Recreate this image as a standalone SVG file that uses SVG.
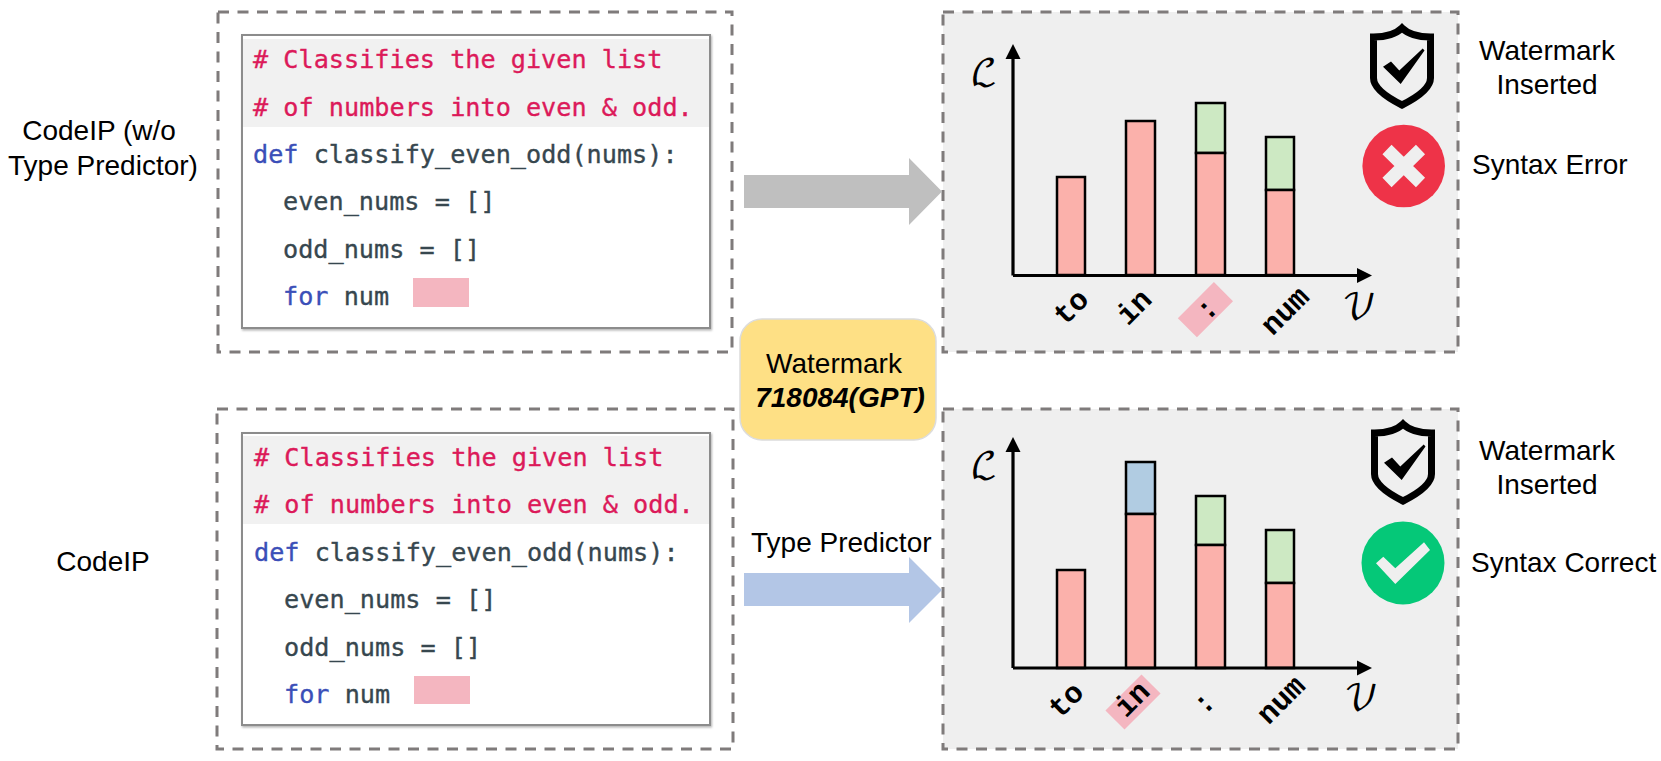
<svg xmlns="http://www.w3.org/2000/svg" width="1661" height="761" viewBox="0 0 1661 761">
<style>
.dash{stroke:#7f7b7b;stroke-width:3;stroke-dasharray:11 8.5}
.panel{fill:#efefef}
.box{fill:none}
.code{fill:#fff;stroke:#8c8c8c;stroke-width:2;filter:url(#sh)}
.hl{fill:#f1f1f1}
.c{font:25.2px "DejaVu Sans Mono",monospace;fill:#37474f;stroke:#37474f;stroke-width:.35}
.cm{fill:#dc1a5a;stroke:#dc1a5a}
.kw{fill:#3b4fb8;stroke:#3b4fb8}
.blank{fill:#f4b6c0}
.t{font:28px "Liberation Sans",Arial,sans-serif;fill:#000}
.bi{font-weight:bold;font-style:italic}
.m{text-anchor:middle}
.b{stroke:#000;stroke-width:2.5}
.r{fill:#fbb1ab}.g{fill:#cde9c3}.u{fill:#b1cce2}
.ax{stroke:#000;stroke-width:3.2;fill:none}
.tk{font:bold 30px "Liberation Mono",monospace;fill:#000;text-anchor:middle}
.sc{font:36px "DejaVu Math TeX Gyre","DejaVu Serif",serif;fill:#000;text-anchor:middle}
.sh{fill:none;stroke:#000;stroke-width:7;stroke-linejoin:miter}
</style>
<defs>
<filter id="sh" x="-3%" y="-3%" width="106%" height="106%"><feDropShadow dx="1" dy="1.5" stdDeviation="1.2" flood-color="#000" flood-opacity=".3"/></filter>
<g id="shield"><path class="sh" d="M1402,28C1396,34 1385,37 1373.5,37L1373.5,78C1373.5,90 1392,100 1402,105C1412,100 1430.5,90 1430.5,78L1430.5,37C1419,37 1408,34 1402,28Z"/><path d="M1383,66.7L1391,61.5L1399.3,70.5L1422.7,48.5L1424.5,50.5L1400.7,84Z"/></g>
<path id="ah" d="M0,0l7.5,15h-15z"/>
</defs>

<g id="label-codeip-no-tp"><text class="t m" x="99" y="140">CodeIP (w/o</text><text class="t m" x="103" y="175">Type Predictor)</text></g>
<g id="label-codeip"><text class="t m" x="103" y="571">CodeIP</text></g>

<g id="code-top">
<rect class="dash box" x="218" y="12" width="514" height="340"/>
<rect class="code" x="242" y="35" width="468" height="293"/>
<rect class="hl" x="243" y="39" width="466" height="88"/>
<text class="c cm" x="253" y="68"># Classifies the given list</text>
<text class="c cm" x="253" y="115.5"># of numbers into even &amp; odd.</text>
<text class="c" x="253" y="163"><tspan class="kw">def</tspan> classify_even_odd(nums):</text>
<text class="c" x="283" y="210">even_nums = []</text>
<text class="c" x="283" y="258">odd_nums = []</text>
<text class="c" x="283" y="305"><tspan class="kw">for</tspan> num</text>
<rect class="blank" x="413" y="278" width="56" height="29"/>
</g>

<g id="code-bottom">
<rect class="dash box" x="217" y="409" width="516" height="340"/>
<rect class="code" x="242" y="433" width="468" height="292"/>
<rect class="hl" x="243" y="436" width="466" height="88"/>
<text class="c cm" x="254" y="465.5"># Classifies the given list</text>
<text class="c cm" x="254" y="513"># of numbers into even &amp; odd.</text>
<text class="c" x="254" y="560.5"><tspan class="kw">def</tspan> classify_even_odd(nums):</text>
<text class="c" x="284" y="608">even_nums = []</text>
<text class="c" x="284" y="655.5">odd_nums = []</text>
<text class="c" x="284" y="703"><tspan class="kw">for</tspan> num</text>
<rect class="blank" x="414" y="676" width="56" height="28"/>
</g>

<g id="result-top">
<rect class="panel" x="943" y="12" width="515" height="340"/>
<rect class="dash box" x="943" y="12" width="515" height="340"/>
<rect class="b r" x="1057" y="177" width="28" height="98"/>
<rect class="b r" x="1126" y="121" width="29" height="154"/>
<rect class="b g" x="1196" y="103" width="29" height="50"/>
<rect class="b r" x="1196" y="153" width="29" height="122"/>
<rect class="b g" x="1266" y="137" width="28" height="53"/>
<rect class="b r" x="1266" y="190" width="28" height="85"/>
<path class="ax" d="M1013,275.5V58M1013,275.5H1358"/>
<use href="#ah" x="1013" y="44"/>
<path d="M1372,275.5l-15,-7.5v15z"/>
<text class="sc" x="984" y="85">ℒ</text>
<text class="sc" x="1359" y="319">𝒱</text>
<rect class="blank" x="1180" y="296" width="51" height="27" transform="rotate(-45 1205.7 309.7)"/>
<text class="tk" transform="translate(1072 308) rotate(-45)" y="8">to</text>
<text class="tk" transform="translate(1135 308) rotate(-45)" y="8">in</text>
<text class="tk" transform="translate(1208 310) rotate(-45)" y="8">:</text>
<text class="tk" transform="translate(1286 312) rotate(-45)" y="8">num</text>
<use href="#shield"/>
<circle cx="1403.7" cy="166" r="41.3" fill="#ee3348"/>
<path d="M1387,149.5L1420.5,182.5M1420.5,149.5L1387,182.5" stroke="#efefef" stroke-width="13" fill="none"/>
<text class="t m" x="1547" y="60">Watermark</text><text class="t m" x="1547" y="94">Inserted</text>
<text class="t" x="1472" y="174">Syntax Error</text>
</g>

<g id="result-bottom">
<rect class="panel" x="943" y="409" width="515" height="340"/>
<rect class="dash box" x="943" y="409" width="515" height="340"/>
<rect class="b r" x="1057" y="570" width="28" height="98"/>
<rect class="b u" x="1126" y="462" width="29" height="52"/>
<rect class="b r" x="1126" y="514" width="29" height="154"/>
<rect class="b g" x="1196" y="496" width="29" height="49"/>
<rect class="b r" x="1196" y="545" width="29" height="123"/>
<rect class="b g" x="1266" y="530" width="28" height="53"/>
<rect class="b r" x="1266" y="583" width="28" height="85"/>
<path class="ax" d="M1013,668V451M1013,668H1358"/>
<use href="#ah" x="1013" y="437"/>
<path d="M1372,668l-15,-7.5v15z"/>
<text class="sc" x="984" y="478">ℒ</text>
<text class="sc" x="1361" y="710">𝒱</text>
<rect class="blank" x="1107.5" y="688.5" width="51" height="27" transform="rotate(-45 1133 702)"/>
<text class="tk" transform="translate(1067 701) rotate(-45)" y="8">to</text>
<text class="tk" transform="translate(1133 700) rotate(-45)" y="8">in</text>
<text class="tk" transform="translate(1205 704) rotate(-45)" y="8">:</text>
<text class="tk" transform="translate(1282 701) rotate(-45)" y="8">num</text>
<use href="#shield" transform="translate(1 396)"/>
<circle cx="1403" cy="563" r="41.5" fill="#05c878"/>
<path d="M1376,563.3L1383.3,556.7L1395.3,568.3L1424,542.3L1430,550L1395.3,584Z" fill="#efefef"/>
<text class="t m" x="1547" y="460">Watermark</text><text class="t m" x="1547" y="494">Inserted</text>
<text class="t" x="1471" y="572">Syntax Correct</text>
</g>

<g id="connectors">
<path fill="#bfbfbf" d="M744,175H909V158L942,191.5L909,225V208H744Z"/>
<path fill="#b3c6e6" d="M744,573H909V557L942,590L909,623V606H744Z"/>
</g>

<g id="label-type-predictor"><text class="t" x="751" y="552">Type Predictor</text></g>

<g id="watermark">
<rect x="740" y="319" width="196" height="121" rx="22" fill="#fee085" stroke="#dcdcdc" stroke-width="1.5"/>
<text class="t m" x="834" y="373">Watermark</text>
<text class="t m bi" x="840" y="407">718084(GPT)</text>
</g>
</svg>
